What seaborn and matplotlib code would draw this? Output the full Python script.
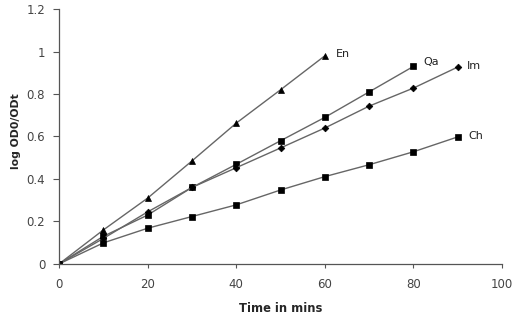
import matplotlib
matplotlib.use("Agg")
import matplotlib.pyplot as plt
import seaborn as sns
import pandas as pd

time_en = [0, 10, 20, 30, 40, 50, 60]
en = [0, 0.16, 0.31, 0.485, 0.663, 0.82, 0.98]
time_qa = [0, 10, 20, 30, 40, 50, 60, 70, 80]
qa = [0, 0.13, 0.23, 0.36, 0.469, 0.58, 0.69, 0.81, 0.93]
time_im = [0, 10, 20, 30, 40, 50, 60, 70, 80, 90]
im = [0, 0.12, 0.245, 0.36, 0.453, 0.546, 0.64, 0.743, 0.828, 0.927]
time_ch = [0, 10, 20, 30, 40, 50, 60, 70, 80, 90]
ch = [0, 0.099, 0.168, 0.223, 0.278, 0.348, 0.411, 0.467, 0.528, 0.598]

series = [("En", time_en, en, "^"), ("Qa", time_qa, qa, "s"),
          ("Im", time_im, im, "D"), ("Ch", time_ch, ch, "s")]
label_pos = {"En": (62.5, 0.99), "Qa": (82.2, 0.95), "Im": (92, 0.93), "Ch": (92.5, 0.60)}

sns.set_style("ticks")
plt.rcParams['font.family'] = ['DejaVu Sans']
fig = plt.figure(figsize=(5.23, 3.23), dpi=100)
ax = fig.add_axes([0.113, 0.183, 0.847, 0.789])

for name, t, v, m in series:
    df = pd.DataFrame({"t": t, "v": v})
    ms = 4.3 if m != "D" else 3.4
    sns.lineplot(data=df, x="t", y="v", ax=ax, color="#666666", linewidth=1.0,
                 marker=m, markersize=ms, markerfacecolor="black",
                 markeredgecolor="black", markeredgewidth=0.5)
    lx, ly = label_pos[name]
    ax.text(lx, ly, name, fontsize=8, color="#222222", va="center", ha="left")

ax.set_xlim(0, 100)
ax.set_ylim(0, 1.2)
ax.set_xticks([0, 20, 40, 60, 80, 100])
ax.set_yticks([0, 0.2, 0.4, 0.6, 0.8, 1.0, 1.2])
ax.set_yticklabels(["0", "0.2", "0.4", "0.6", "0.8", "1", "1.2"])
ax.tick_params(axis="both", labelsize=8.5, labelcolor="#444444", color="#555555",
               width=0.8, direction="out")
ax.tick_params(axis="y", length=4, pad=6)
ax.tick_params(axis="x", length=3, pad=7)
for s in ["top", "right"]:
    ax.spines[s].set_visible(False)
for s in ["left", "bottom"]:
    ax.spines[s].set_color("#555555")
    ax.spines[s].set_linewidth(0.9)
ax.set_xlabel("Time in mins", fontsize=8.3, fontweight="bold", labelpad=8)
ax.set_ylabel("log OD0/ODt", fontsize=7.8, fontweight="bold", labelpad=6)
ax.yaxis.set_label_coords(-0.085, 0.52)

fig.savefig("out.png", dpi=100)
